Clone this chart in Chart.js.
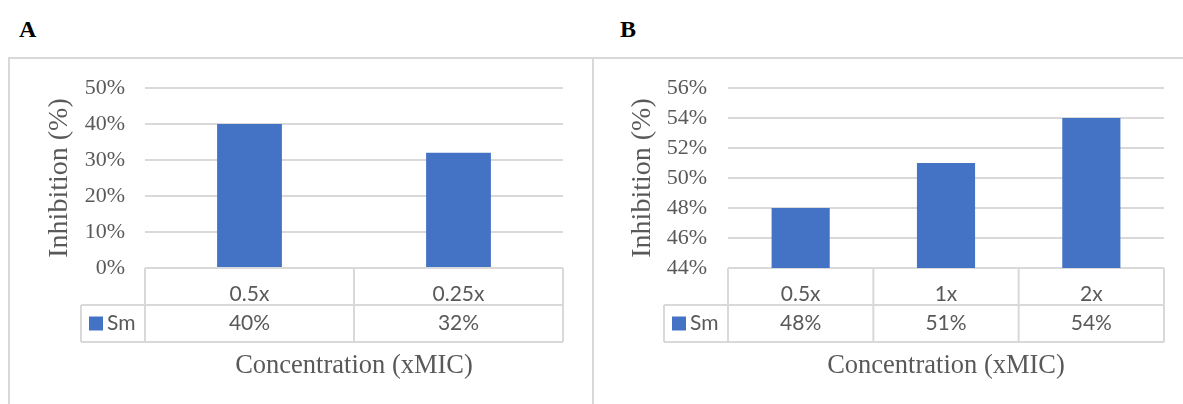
<!DOCTYPE html>
<html>
<head>
<meta charset="utf-8">
<script src="https://cdn.jsdelivr.net/npm/chart.js@4.4.0/dist/chart.umd.min.js"></script>
<style>
  html, body { margin: 0; padding: 0; background: #fff; }
  body { width: 1183px; height: 404px; position: relative; overflow: hidden; }
  .frame { position: absolute; top: 57px; height: 420px; border: 2px solid #d9d9d9; box-sizing: border-box; }
  .tag { position: absolute; top: 17px; font: bold 24px "Liberation Serif", "Times New Roman", serif; line-height: 1; color: #000; }
  .wrap { position: absolute; top: 0; height: 404px; }
</style>
</head>
<body>
<div class="frame" style="left:8px;width:586px"></div>
<div class="frame" style="left:592px;width:620px"></div>
<div class="tag" style="left:19px">A</div>
<div class="tag" style="left:620px">B</div>
<div class="wrap" style="left:0;width:592px"><canvas id="chartA" width="592" height="404"></canvas></div>
<div class="wrap" style="left:592px;width:591px"><canvas id="chartB" width="591" height="404"></canvas></div>
<script>
const seriesName = 'Sm';
const xTitle = 'Concentration (xMIC)';
const yTitle = 'Inhibition (%)';

const labelsA = ['0.5x', '0.25x'];
const valuesA = [40, 32];
const ticksA = { min: 0, max: 50, step: 10 };

const labelsB = ['0.5x', '1x', '2x'];
const valuesB = [48, 51, 54];
const ticksB = { min: 44, max: 56, step: 2 };

const barColor = '#4472c4';
const textColor = '#595959';
const lineColor = '#d9d9d9';
const serif = '"Liberation Serif", "Times New Roman", serif';
const sans = 'Lato, "Liberation Sans", sans-serif';

// draws the excel-style data table under the plot (borders, legend key, values)
const dataTable = {
  id: 'dataTable',
  afterDraw(chart, args, opts) {
    const { ctx, chartArea: a } = chart;
    const xs = chart.scales.x;
    const n = chart.data.labels.length;
    const colW = (a.right - a.left) / n;
    const top = a.bottom;
    const mid = top + opts.rowH;
    const bot = mid + opts.rowH;

    ctx.save();
    ctx.strokeStyle = lineColor;
    ctx.lineWidth = 2;
    ctx.beginPath();
    for (let i = 0; i <= n; i++) {
      const px = a.left + i * colW;
      ctx.moveTo(px, top);
      ctx.lineTo(px, bot);
    }
    ctx.moveTo(opts.left, mid); ctx.lineTo(a.right, mid);
    ctx.moveTo(opts.left, bot); ctx.lineTo(a.right, bot);
    ctx.moveTo(opts.left, mid); ctx.lineTo(opts.left, bot);
    ctx.stroke();

    const ds = chart.data.datasets[0];
    const cy = (mid + bot) / 2;
    ctx.fillStyle = ds.backgroundColor;
    ctx.fillRect(opts.left + 8, cy - 7, 14, 14);

    ctx.fillStyle = textColor;
    ctx.font = '21px ' + sans;
    ctx.textBaseline = 'middle';
    ctx.textAlign = 'left';
    ctx.fillText(ds.label, opts.left + 26, cy);
    ctx.textAlign = 'center';
    ds.data.forEach((v, i) => ctx.fillText(v + '%', xs.getPixelForValue(i), cy));
    ctx.restore();
  }
};

function makeChart(id, labels, values, t, cfg) {
  return new Chart(document.getElementById(id), {
    type: 'bar',
    data: {
      labels: labels,
      datasets: [{
        label: seriesName,
        data: values,
        backgroundColor: barColor,
        categoryPercentage: 1,
        barPercentage: cfg.barPct
      }]
    },
    options: {
      responsive: false,
      animation: false,
      layout: { padding: { top: 88, right: cfg.padRight, bottom: 0, left: 0 } },
      plugins: {
        legend: { display: false },
        tooltip: { enabled: false },
        dataTable: { left: cfg.tableLeft, rowH: 37 }
      },
      scales: {
        x: {
          grid: { display: false },
          border: { display: false },
          ticks: {
            color: textColor,
            font: { family: sans, size: 21 },
            padding: 6,
            maxRotation: 0,
            autoSkip: false
          },
          title: {
            display: true,
            text: xTitle,
            color: textColor,
            font: { family: serif, size: 26.5 },
            padding: { top: 0, bottom: 22 }
          },
          afterFit: s => { s.height = 136; }
        },
        y: {
          min: t.min,
          max: t.max,
          grid: { color: lineColor, lineWidth: 2, drawTicks: false },
          border: { display: false },
          ticks: {
            stepSize: t.step,
            color: textColor,
            font: { family: serif, size: 22 },
            padding: cfg.tickPad,
            callback: v => v + '%'
          },
          title: {
            display: true,
            text: yTitle,
            color: textColor,
            font: { family: serif, size: 28 },
            padding: { top: cfg.titlePad, bottom: 0 }
          },
          afterFit: s => { s.width = cfg.axisW; }
        }
      }
    },
    plugins: [dataTable]
  });
}

makeChart('chartA', labelsA, valuesA, ticksA,
  { barPct: 0.31, padRight: 29, axisW: 145, tickPad: 20, titlePad: 43, tableLeft: 81 });
makeChart('chartB', labelsB, valuesB, ticksB,
  { barPct: 0.40, padRight: 19, axisW: 136, tickPad: 21, titlePad: 34, tableLeft: 72 });
</script>
</body>
</html>
